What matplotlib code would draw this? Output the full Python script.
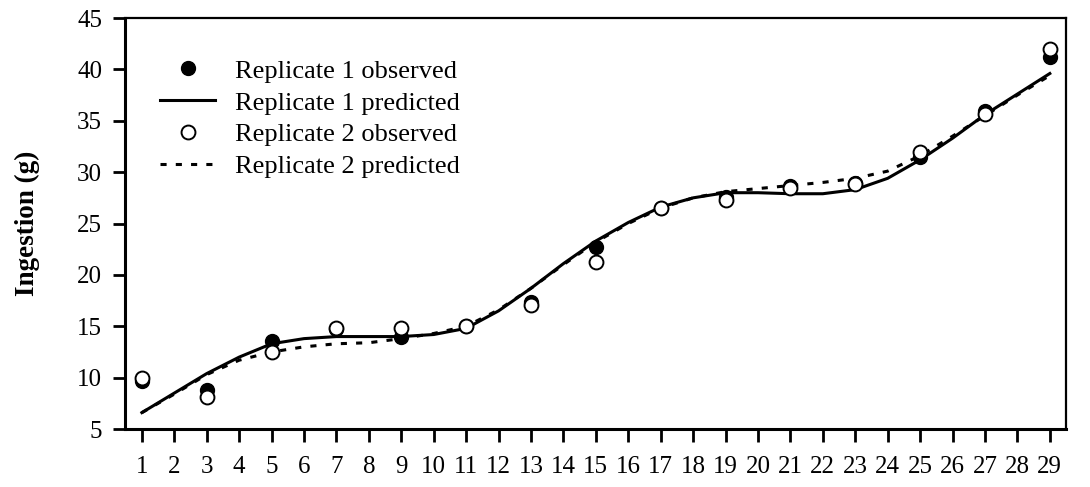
import numpy as np
import matplotlib
matplotlib.use("Agg")
import matplotlib.pyplot as plt

plt.rcParams['font.family'] = ['Liberation Serif', 'DejaVu Serif']

days = list(range(1, 30))
obs_days = list(range(1, 30, 2))

# observed ingestion (g), odd days
rep1_obs = [9.7, 8.8, 13.6, 14.7, 14.0, 15.0, 17.4, 22.7, 26.5, 27.6, 28.7, 28.9, 31.5, 36.0, 41.2]
rep2_obs = [10.0, 8.1, 12.5, 14.8, 14.8, 15.0, 17.1, 21.3, 26.5, 27.3, 28.5, 28.8, 32.0, 35.7, 42.0]

# predicted ingestion (g), every day
rep1_pred = [6.6, 8.5, 10.4, 12.0, 13.3, 13.8, 14.0, 14.0, 14.0, 14.2, 14.8, 16.5, 18.7, 21.1, 23.3,
             25.1, 26.6, 27.5, 28.0, 28.0, 27.9, 27.9, 28.3, 29.4, 31.2, 33.3, 35.6, 37.6, 39.6]
rep2_pred = [6.6, 8.4, 10.3, 11.7, 12.5, 13.0, 13.3, 13.4, 13.8, 14.3, 15.0, 16.6, 18.7, 21.0, 23.2,
             25.0, 26.5, 27.5, 28.1, 28.4, 28.7, 29.0, 29.4, 30.1, 31.6, 33.5, 35.5, 37.5, 39.4]

fig = plt.figure(figsize=(10.9, 4.87), dpi=100)
ax = fig.add_axes([0.1147, 0.119, 0.8633, 0.844])

ax.plot(days, rep2_pred, color='black', lw=2.2, ls=(0, (2, 3)), label='Replicate 2 predicted', zorder=2)
ax.plot(days, rep1_pred, color='black', lw=2.2, label='Replicate 1 predicted', zorder=3)
ax.plot(obs_days, rep1_obs, 'o', color='black', ms=10, label='Replicate 1 observed', zorder=4)
ax.plot(obs_days, rep2_obs, 'o', mfc='white', mec='black', mew=1.4, ms=10,
        label='Replicate 2 observed', zorder=5)

ax.set_xlim(0.48, 29.5)
ax.set_ylim(5, 45)
ax.set_xticks(days)
ax.set_yticks(range(5, 46, 5))
ax.tick_params(axis='both', direction='out', width=2, labelsize=18, colors='black')
ax.tick_params(axis='x', pad=10, length=9.5)
ax.tick_params(axis='y', pad=8, length=8.5)
for s in ['left', 'bottom']:
    ax.spines[s].set_linewidth(2.2)
for s in ['top', 'right']:
    ax.spines[s].set_linewidth(1.6)

ax.set_ylabel('Ingestion (g)', fontsize=19.5, fontweight='bold', labelpad=27)

h, l = ax.get_legend_handles_labels()
order = [2, 1, 3, 0]
ax.legend([h[i] for i in order], [l[i] for i in order], loc='upper left', frameon=False,
          fontsize=19, handlelength=2.1, handletextpad=0.75, labelspacing=0.32,
          bbox_to_anchor=(0.037, 0.9), borderaxespad=0, borderpad=0)

fig.savefig('out.png', dpi=100)
